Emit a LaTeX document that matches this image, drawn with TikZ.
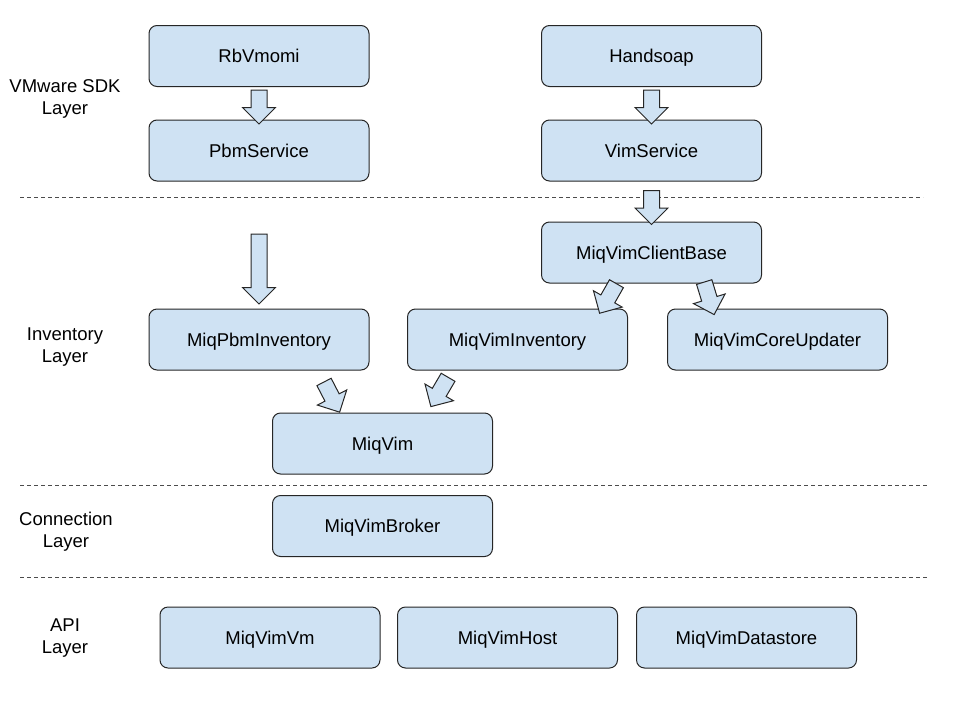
\documentclass[tikz,border=0pt]{standalone}
\usepackage{fontspec}
\setmainfont{Liberation Sans}
\usetikzlibrary{shapes.arrows}
\definecolor{boxblue}{HTML}{CFE2F3}
\tikzset{
    box/.style={draw=black!85, line width=1pt, fill=boxblue,
        rounded corners=8pt, minimum width=220pt, minimum height=61pt,
        inner sep=0pt, text height=13pt, text depth=0pt,
        font=\fontsize{18.5}{22}\selectfont},
    blockarrow/.style={single arrow, draw=black!85, line width=1pt,
        fill=boxblue, inner xsep=0pt, inner ysep=7.5pt,
        single arrow head extend=8.5pt, single arrow head indent=0pt,
        minimum height=34pt},
    layerlabel/.style={align=center, font=\fontsize{18.5}{22}\selectfont},
    layerline/.style={draw=black!70, line width=1pt, dash pattern=on 4pt off 3pt}
}

\begin{document}
\begin{tikzpicture}[x=1pt,y=-1pt]
  \useasboundingbox (0,0) rectangle (960,720);
  % Draw layer separators
  \coordinate (sdkl) at (20,197);   \coordinate (sdkr) at (923,197);
  \coordinate (invl) at (20,485);   \coordinate (invr) at (928,485);
  \coordinate (conl) at (20,577);   \coordinate (conr) at (928,577);
  \draw[layerline] (sdkl) -- (sdkr);
  \draw[layerline] (invl) -- (invr);
  \draw[layerline] (conl) -- (conr);
  % Draw layer labels
  \node[layerlabel] (sdklabel) at (65,99)  {VMware SDK\\Layer};
  \node[layerlabel] (invlabel) at (65,347) {Inventory\\Layer};
  \node[layerlabel] (conlabel) at (66,532) {Connection\\Layer};
  \node[layerlabel] (apilabel) at (65,638) {API\\Layer};
  % Draw SDK boxes
  \node[box] (rbvmomi)    at (259,56)    {RbVmomi};
  \node[box] (pbmservice) at (259,150.5) {PbmService};
  \node[box] (handsoap)   at (651.5,56)    {Handsoap};
  \node[box] (vimservice) at (651.5,150.5) {VimService};
  % Draw inventory boxes
  \node[box] (clientbase)  at (651.5,252.5) {MiqVimClientBase};
  \node[box] (pbminv)      at (259,339.5)   {MiqPbmInventory};
  \node[box] (viminv)      at (517.5,339.5) {MiqVimInventory};
  \node[box] (coreupdater) at (777.5,339.5) {MiqVimCoreUpdater};
  \node[box] (miqvim)      at (382.5,443.5) {MiqVim};
  % Draw connection and API boxes
  \node[box] (broker)    at (382.5,526)   {MiqVimBroker};
  \node[box] (vimvm)     at (270,637.5)   {MiqVimVm};
  \node[box] (vimhost)   at (507.5,637.5) {MiqVimHost};
  \node[box] (datastore) at (746.5,637.5) {MiqVimDatastore};
  % Draw block arrows
  \node[blockarrow, rotate=-90] (rbvtopbm)   at (259,103)   {};
  \node[blockarrow, rotate=-90] (hstovim)    at (651.5,103) {};
  \node[blockarrow, rotate=-90] (vimtobase)  at (651.5,203.5) {};
  \node[blockarrow, rotate=-90, minimum height=70pt] (topbminv) at (259,265) {};
  \node[blockarrow, rotate=-119.7] (basetoinv)  at (610,295)   {};
  \node[blockarrow, rotate=-73]    (basetocore) at (708,294.5) {};
  \node[blockarrow, rotate=-62.7]  (pbmtovim)   at (330,393.5) {};
  \node[blockarrow, rotate=-120.4] (invtovim)   at (441.5,388.5) {};
\end{tikzpicture}
\end{document}
